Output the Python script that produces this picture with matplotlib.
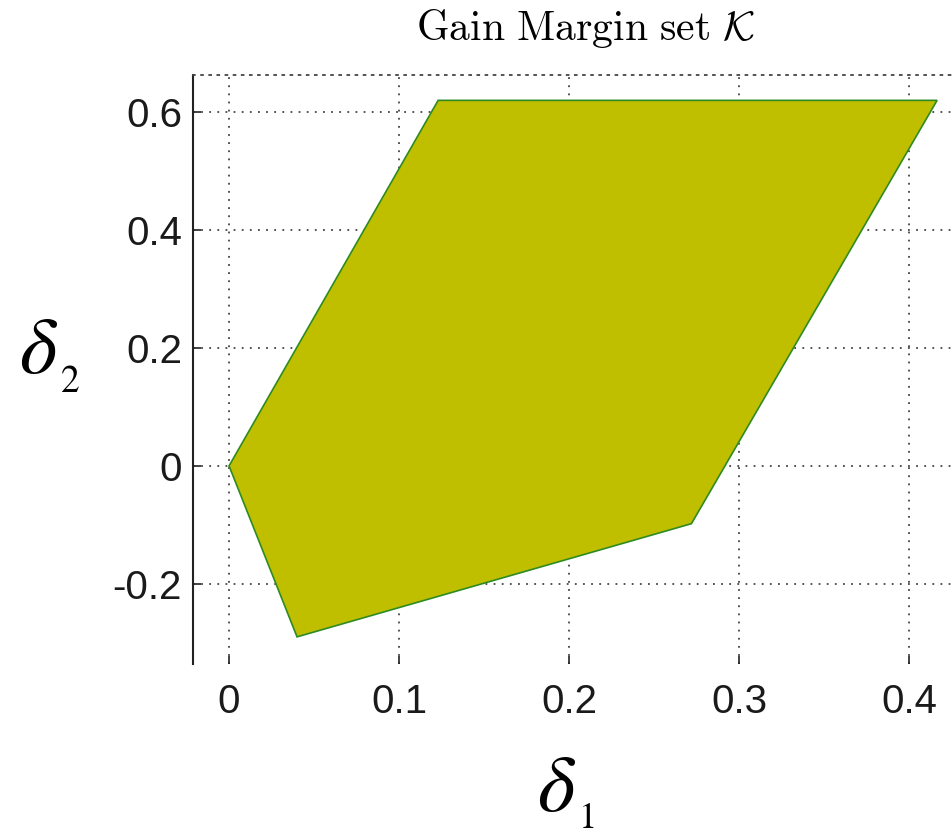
import matplotlib.pyplot as plt
from matplotlib.patches import Polygon

# vertices of the gain margin set (delta1, delta2)
delta1 = [0.0, 0.123, 0.4165, 0.272, 0.040]
delta2 = [0.0, 0.620, 0.620, -0.098, -0.290]

xticks = [0, 0.1, 0.2, 0.3, 0.4]
xticklabels = ['0', '0.1', '0.2', '0.3', '0.4']
yticks = [-0.2, 0, 0.2, 0.4, 0.6]
yticklabels = ['-0.2', '0', '0.2', '0.4', '0.6']

W, H = 952, 839
fig = plt.figure(figsize=(W / 100, H / 100), dpi=100)

xmin, xmax = -0.0212, 0.45
ymin, ymax = -0.336, 0.663
pxPerX = 1700.0
left = 193 / W
bottom = 175 / H
ax = fig.add_axes([left, bottom, (xmax - xmin) * pxPerX / W, 589 / H])

poly = Polygon(list(zip(delta1, delta2)), closed=True,
               facecolor='#bfbf00', edgecolor='#2e8b22', linewidth=1.2, zorder=2)
ax.add_patch(poly)

ax.set_xlim(xmin, xmax)
ax.set_ylim(ymin, ymax)
ax.set_xticks(xticks)
ax.set_xticklabels(xticklabels)
ax.set_yticks(yticks)
ax.set_yticklabels(yticklabels)

ax.set_axisbelow(True)
ax.grid(True, color='#444444', linestyle=(0, (1, 3.5)), linewidth=1.3)

ax.spines['right'].set_visible(False)
ax.spines['bottom'].set_visible(False)
ax.spines['top'].set_linestyle((0, (1, 3.5)))
ax.spines['top'].set_color('#444444')
ax.spines['top'].set_linewidth(1.3)
ax.spines['left'].set_linewidth(1.5)
ax.spines['left'].set_color('#222222')

ax.tick_params(axis='both', direction='in', length=6, width=1.2, color='#222222',
               labelsize=29, labelcolor='#1a1a1a')
ax.tick_params(axis='y', pad=8, right=False)
ax.tick_params(axis='x', pad=14, top=False)
for lab in ax.get_xticklabels() + ax.get_yticklabels():
    lab.set_fontfamily('Liberation Sans')

# title (LaTeX look)
fig.text(586 / W, 1 - 29 / H, r'$\mathrm{Gain\ Margin\ set}\ \mathcal{K}$',
         math_fontfamily='cm', fontsize=30, ha='center', va='center')

# axis labels, Times-like delta with big subscript
fig.text(557 / W, 1 - 789 / H, r'$\delta$', math_fontfamily='stix',
         fontsize=58, ha='center', va='center')
fig.text(586 / W, 1 - 818 / H, r'$\mathrm{1}$', math_fontfamily='stix',
         fontsize=26, ha='center', va='center')
fig.text(39 / W, 1 - 351 / H, r'$\delta$', math_fontfamily='stix',
         fontsize=58, ha='center', va='center')
fig.text(70 / W, 1 - 382 / H, r'$\mathrm{2}$', math_fontfamily='stix',
         fontsize=27, ha='center', va='center')

fig.savefig('out.png', dpi=100)
